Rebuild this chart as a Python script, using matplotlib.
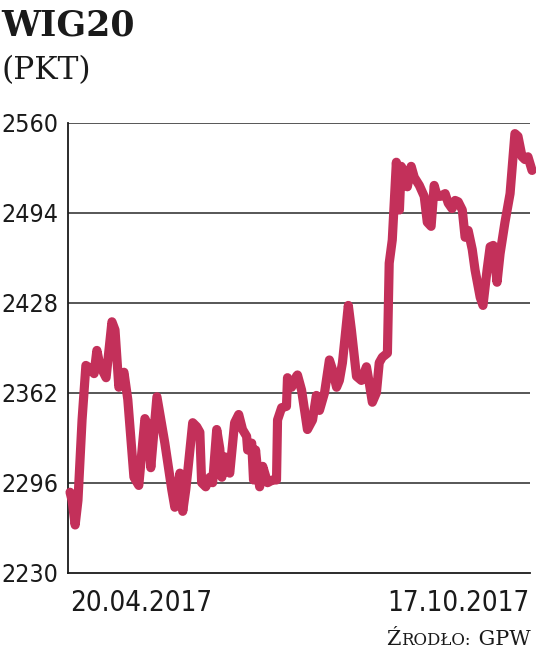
import matplotlib
matplotlib.use("Agg")
import matplotlib.pyplot as plt
from matplotlib import font_manager as fm

# ---- data (days after 20.04.2017, WIG20 points) ----
days = [0, 0.8, 2.0, 3.1, 4.7, 6.2, 7.8, 9.4, 10.5, 11.7, 14.1, 16.4, 17.6, 19.1,
        21.1, 22.6, 25.0, 26.9, 29.3, 30.5, 31.6, 34.0, 37.1, 39.8, 41.0, 43.0,
        44.1, 45.3, 46.1, 48.0, 49.6, 50.8, 51.5, 53.1, 54.7, 55.8, 57.4, 58.6,
        59.4, 60.5, 62.5, 64.4, 66.0, 67.5, 69.1, 69.5, 71.1, 71.8, 72.6, 73.4,
        74.2, 75.4, 77.3, 79.3, 80.8, 81.2, 82.8, 84.7, 85.1, 86.7, 88.6, 89.0,
        90.6, 92.9, 94.9, 96.4, 97.6, 99.6, 101.5, 102.7, 104.3, 105.4, 106.6,
        108.9, 110.1, 112.1, 114.0, 116.0, 117.1, 118.3, 119.9, 121.0, 122.2,
        124.2, 124.9, 126.1, 127.7, 128.9, 129.6, 130.8, 132.0, 133.5, 134.7,
        136.7, 138.6, 139.8, 141.3, 142.5, 143.7, 144.9, 146.8, 148.0, 149.5,
        150.7, 151.9, 153.5, 154.6, 155.8, 157.4, 158.5, 160.5, 161.6, 163.2,
        164.4, 165.6, 167.1, 168.3, 170.2, 172.2, 174.1, 175.3, 176.9, 178.0,
        179.2, 180.8]
values = [2289, 2283, 2265, 2283, 2342, 2382, 2380, 2376, 2393, 2382, 2373, 2414,
          2408, 2366, 2377, 2357, 2300, 2294, 2343, 2338, 2307, 2359, 2325, 2291,
          2278, 2303, 2275, 2291, 2305, 2340, 2337, 2333, 2296, 2293, 2300, 2296,
          2335, 2321, 2300, 2315, 2303, 2340, 2346, 2335, 2330, 2320, 2325, 2298,
          2320, 2305, 2293, 2308, 2296, 2298, 2298, 2342, 2351, 2352, 2373, 2366,
          2374, 2375, 2364, 2335, 2342, 2360, 2349, 2362, 2386, 2379, 2366, 2371,
          2384, 2426, 2408, 2374, 2371, 2381, 2369, 2355, 2362, 2384, 2388, 2391,
          2457, 2474, 2531, 2496, 2528, 2524, 2513, 2528, 2520, 2514, 2506, 2487,
          2484, 2514, 2506, 2506, 2508, 2501, 2497, 2503, 2502, 2496, 2476, 2481,
          2467, 2452, 2432, 2426, 2452, 2469, 2470, 2443, 2464, 2487, 2508, 2552,
          2550, 2535, 2533, 2535, 2525]

yticks = [2230, 2296, 2362, 2428, 2494, 2560]
xtick_days = [0, 180]
xtick_labels = ["20.04.2017", "17.10.2017"]
title = "WIG20"
unit = "(PKT)"
source_parts = [("Ź", 15), ("RODŁO:", 12), (" GPW", 15)]

# ---- fonts: prefer a narrow sans ----
entries = fm.fontManager.ttflist
names = {f.name for f in entries}
num_family, num_stretch = "Roboto", "normal"
if "Liberation Sans Narrow" in names:
    num_family = "Liberation Sans Narrow"
elif any(f.name == "DejaVu Sans" and f.stretch in ("condensed", "semi-condensed")
         for f in entries):
    num_family, num_stretch = "DejaVu Sans", "condensed"
else:
    cond = sorted(n for n in names if "Condensed" in n or "Narrow" in n)
    if cond:
        num_family = cond[0]
    elif "Roboto" not in names:
        num_family = "DejaVu Sans"

W, H = 536, 654
fig = plt.figure(figsize=(W / 100, H / 100), dpi=100)
ax = fig.add_axes([68 / W, 1 - 572.7 / H, (530 - 68) / W, 450 / H])

ax.plot(days, values, color="#C3305A", lw=6.6, solid_joinstyle="round",
        solid_capstyle="round", clip_on=False, zorder=3)

ax.set_ylim(2230, 2560)
ax.set_xlim(-0.8, 179.6)
ax.set_yticks(yticks)
ax.set_yticklabels([str(v) for v in yticks], fontsize=22, family=num_family,
                   stretch=num_stretch, color="#1a1a1a")
ax.tick_params(axis="y", length=0, pad=7)
for v in yticks[1:]:
    ax.axhline(v, color="#3a3a3a", lw=1.2, zorder=1)

ax.set_xticks(xtick_days)
ax.set_xticklabels(xtick_labels, fontsize=23, family=num_family,
                   stretch=num_stretch, color="#1a1a1a")
ax.tick_params(axis="x", length=0, pad=12)
lbls = ax.get_xticklabels()
lbls[0].set_ha("left")
lbls[1].set_ha("right")

for s in ["top", "right"]:
    ax.spines[s].set_visible(False)
for s in ["left", "bottom"]:
    ax.spines[s].set_color("#1a1a1a")
    ax.spines[s].set_linewidth(1.3)

# fit label sizes to the reference widths (px)
fig.canvas.draw()
r = fig.canvas.get_renderer()
yl = ax.get_yticklabels()
w = yl[-1].get_window_extent(r).width
fs_y = min(22, 22 * 57 / w)
for t in yl:
    t.set_fontsize(fs_y)
xl = ax.get_xticklabels()
w = xl[0].get_window_extent(r).width
fs_x = min(24, 23 * 143 / w)
for t in xl:
    t.set_fontsize(fs_x)

fig.text(1 / W, 1 - 35 / H, title, fontsize=25, fontweight="bold",
         family="DejaVu Serif", color="#1a1a1a", ha="left", va="baseline")
fig.text(2 / W, 1 - 79 / H, unit, fontsize=22.5, family="DejaVu Serif",
         color="#1a1a1a", ha="left", va="baseline")

# source in small caps: pieces laid out one after another
x_px = 386
base_y = 1 - 645 / H
for txt, fs in source_parts:
    t = fig.text(x_px / W, base_y, txt, fontsize=fs, family="DejaVu Serif",
                 color="#1a1a1a", ha="left", va="baseline")
    fig.canvas.draw()
    bb = t.get_window_extent(fig.canvas.get_renderer())
    x_px = bb.x1 + 1

fig.savefig("out.png", dpi=100, facecolor="white")
